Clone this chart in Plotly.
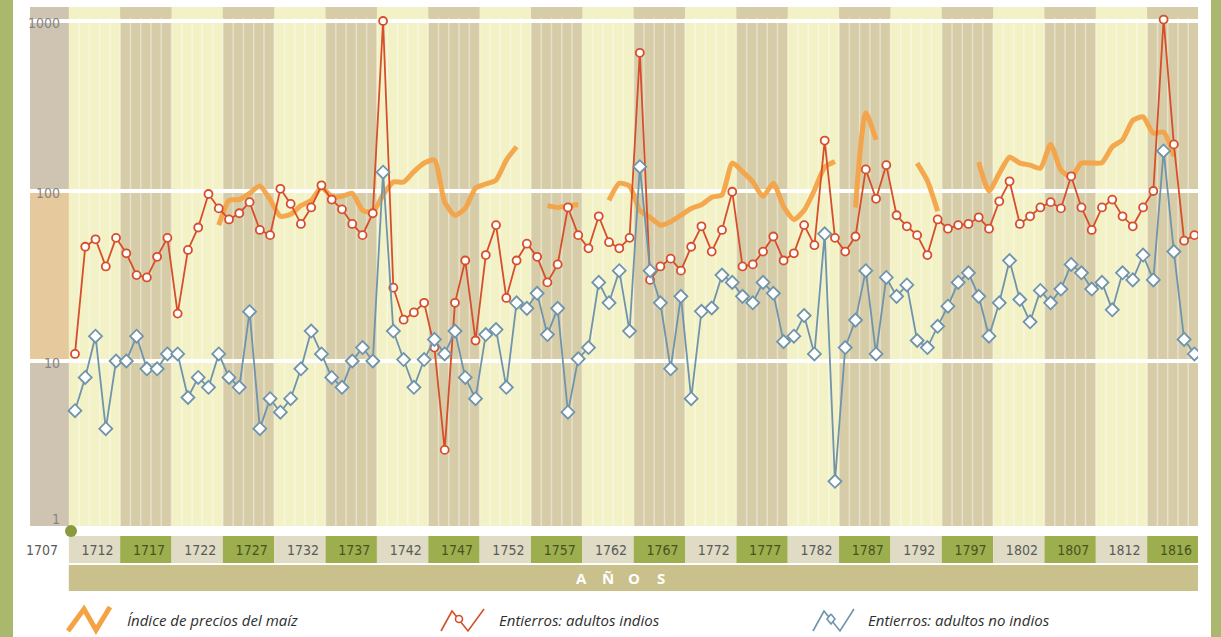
import math
import plotly.graph_objects as go

# ---- data -------------------------------------------------------------
years = list(range(1707, 1817))

# Entierros: adultos indios
indios = [
    11, 47, 52, 36, 53, 43, 32, 31, 41, 53,
    19, 45, 61, 96, 79, 68, 74, 86, 59, 55,
    103, 84, 64, 80, 108, 89, 78, 64, 55, 74,
    1000, 27, 17.5, 19.3, 22, 12, 3, 22, 39, 13.2,
    42, 63, 23.5, 39, 49, 41, 29, 37, 80, 55,
    46, 71, 50, 46, 53, 650, 30, 36, 40, 34,
    47, 62, 44, 59, 99, 36, 37, 44, 54, 39,
    43, 63, 48, 198, 53, 44, 54, 134, 90, 142,
    72, 62, 55, 42, 68, 60, 63, 64, 70, 60,
    87, 114, 64, 71, 80, 86, 79, 122, 80, 59,
    80, 89, 71, 62, 80, 100, 1020, 188, 51, 55,
]

# Entierros: adultos no indios
no_indios = [
    5.1, 8, 14, 4, 10, 10, 14, 9, 9, 11,
    11, 6.1, 8, 7, 11, 8, 7, 19.5, 4, 6,
    5, 6, 9, 15, 11, 8, 7, 10, 12, 10,
    129, 15, 10.2, 7, 10.2, 13.4, 11, 15, 8, 6,
    14.3, 15.3, 7, 22, 20.4, 25, 14.3, 20.4, 5, 10.3,
    12, 29, 22, 34, 15, 139, 34, 22, 9, 24,
    6, 19.6, 20.5, 32, 29, 24, 22, 29, 25, 13,
    14, 18.5, 11, 56, 1.96, 12, 17.4, 34, 11, 31,
    24, 28, 13.2, 12, 16, 21, 29, 33, 24, 14,
    22, 39, 23, 17, 26, 22, 26.5, 37, 33, 26.5,
    29, 20, 33, 30, 42, 30, 172, 44, 13.4, 11,
]

# Índice de precios del maíz (años sin dato = None)
maiz = [
    None, None, None, None, None, None, None, None, None, None,
    None, None, None, None, 63, 88, 89, 97, 107, 89,
    71, 73, 82, 88, 105, 93, 93, 97, 77, 75,
    95, 113, 113, 130, 146, 152, 86, 72, 79, 104,
    110, 116, 152, 182, None, None, 82, 80, 82, 83,
    None, None, 88, 111, 107, 77, 70, 63, 66, 72,
    79, 83, 92, 95, 146, 130, 113, 93, 111, 81,
    68, 77, 101, 138, 149, None, 80, 288, 200, None,
    None, None, 146, 115, 76, None, None, None, 148, 100,
    127, 158, 146, 142, 136, 188, 133, 121, 146, 146,
    147, 182, 200, 260, 273, 219, 222, 160, None, None,
]

tick_labels = ["1707"] + [str(1707 + 5 * k) for k in range(1, 22)] + ["1816"]
y_labels = ["1000", "100", "10", "1"]
legend_labels = ["Índice de precios del maíz",
                 "Entierros: adultos indios",
                 "Entierros: adultos no indios"]

# ---- geometry ---------------------------------------------------------
W, H = 1221, 637
ML, MR, MT, MB = 30, 23, 7, 111
PW, PH = W - ML - MR, H - MT - MB
X0 = 1702.62
X1 = X0 + PW / 10.27
Y_BOT = 5 / 170.0          # log10 at the bottom edge
Y_TOP = 524 / 170.0        # log10 at the top edge
BAND0 = 1706.4             # first 5-year block edge


def fx(px):
    return (px - ML) / PW


def fy(py):
    return (MT + PH - py) / PH


def yr2paper(yr):
    return (yr - X0) / (X1 - X0)


def log2paper(v):
    return (math.log10(v) - Y_BOT) / (Y_TOP - Y_BOT)


CREAM = "#f3f1c6"
TAN = "#d6cca7"
STRIP_GRAY = "#cfc4b1"
STRIP_PEACH = "#e6c99c"
CELL_LIGHT = "#dfdbc4"
CELL_GREEN = "#9dae4f"
ANOS_BAND = "#c9c08b"
FRAME_GREEN = "#a9b86c"
RED = "#d64f2a"
BLUE = "#6f94ab"
ORANGE = "#f5a243"
NARROW = "Liberation Sans Narrow, DejaVu Sans Condensed, Arial Narrow, sans-serif"

fig = go.Figure()

fig.add_trace(go.Scatter(
    x=years, y=maiz, mode="lines", name=legend_labels[0],
    line=dict(color=ORANGE, width=5, shape="spline", smoothing=0.6),
    opacity=0.92, connectgaps=False, hoverinfo="x+y",
))
fig.add_trace(go.Scatter(
    x=years, y=indios, mode="lines+markers", name=legend_labels[1],
    line=dict(color=RED, width=1.8),
    marker=dict(symbol="circle", size=8, color="white",
                line=dict(color=RED, width=1.8)),
))
fig.add_trace(go.Scatter(
    x=years, y=no_indios, mode="lines+markers", name=legend_labels[2],
    line=dict(color=BLUE, width=1.8),
    marker=dict(symbol="diamond", size=10, color="white",
                line=dict(color=BLUE, width=1.8)),
))

shapes = []

# outer green frame bars
shapes.append(dict(type="rect", xref="paper", yref="paper",
                   x0=fx(0), x1=fx(13), y0=fy(H), y1=fy(0),
                   fillcolor=FRAME_GREEN, line=dict(width=0), layer="below"))
shapes.append(dict(type="rect", xref="paper", yref="paper",
                   x0=fx(1211), x1=fx(W), y0=fy(H), y1=fy(0),
                   fillcolor=FRAME_GREEN, line=dict(width=0), layer="below"))

# value strip on the left of the plot
shapes.append(dict(type="rect", xref="x", yref="paper", x0=X0, x1=BAND0,
                   y0=log2paper(100), y1=1, fillcolor=STRIP_GRAY,
                   line=dict(width=0), layer="below"))
shapes.append(dict(type="rect", xref="x", yref="paper", x0=X0, x1=BAND0,
                   y0=log2paper(10), y1=log2paper(100), fillcolor=STRIP_PEACH,
                   line=dict(width=0), layer="below"))
shapes.append(dict(type="rect", xref="x", yref="paper", x0=X0, x1=BAND0,
                   y0=0, y1=log2paper(10), fillcolor=STRIP_GRAY,
                   line=dict(width=0), layer="below"))

# alternating 5-year bands
for k in range(11):
    a = BAND0 + 5 + 10 * k
    shapes.append(dict(type="rect", xref="x", yref="paper", x0=a, x1=a + 5,
                       y0=0, y1=1, fillcolor=TAN, line=dict(width=0),
                       layer="below"))

# thin yearly lines
for j in range(109):
    xv = BAND0 + 1 + j
    shapes.append(dict(type="line", xref="x", yref="paper", x0=xv, x1=xv,
                       y0=0, y1=fy(18),
                       line=dict(color="rgba(255,255,255,0.42)", width=1.5),
                       layer="below"))

# year cells under the plot
for k in range(22):
    a = BAND0 + 5 * k
    shapes.append(dict(type="rect", xref="paper", yref="paper",
                       x0=yr2paper(a), x1=min(yr2paper(a + 5), 1.0),
                       y0=fy(563), y1=fy(536),
                       fillcolor=CELL_GREEN if k % 2 else CELL_LIGHT,
                       line=dict(width=0), layer="below"))

# "AÑOS" band
shapes.append(dict(type="rect", xref="paper", yref="paper",
                   x0=yr2paper(BAND0), x1=1.0, y0=fy(591), y1=fy(565),
                   fillcolor=ANOS_BAND, line=dict(width=0), layer="below"))

# origin dot
shapes.append(dict(type="circle", xref="paper", yref="paper",
                   x0=fx(65), x1=fx(77), y0=fy(537), y1=fy(525),
                   fillcolor="#8a9a3c", line=dict(width=0)))


def path(points):
    return "M " + " L ".join(f"{fx(a):.5f},{fy(b):.5f}" for a, b in points)


# legend glyphs
shapes.append(dict(type="path", xref="paper", yref="paper",
                   path=path([(68, 631), (84, 609), (96, 630), (110, 607)]),
                   line=dict(color=ORANGE, width=5)))
shapes.append(dict(type="path", xref="paper", yref="paper",
                   path=path([(441, 631), (452, 611), (468, 631), (484, 609)]),
                   line=dict(color=RED, width=1.6)))
shapes.append(dict(type="circle", xref="paper", yref="paper",
                   x0=fx(455.5), x1=fx(462.5), y0=fy(622.5), y1=fy(615.5),
                   fillcolor="white", line=dict(color=RED, width=1.6)))
shapes.append(dict(type="path", xref="paper", yref="paper",
                   path=path([(813, 631), (824, 611), (840, 631), (854, 609)]),
                   line=dict(color=BLUE, width=1.6)))
shapes.append(dict(type="path", xref="paper", yref="paper",
                   path=path([(831, 614), (835, 619), (831, 624), (827, 619), (831, 614)]),
                   fillcolor="white", line=dict(color=BLUE, width=1.6)))

annotations = []

# y-axis labels inside the strip
for lab in y_labels:
    v = float(lab)
    annotations.append(dict(
        x=1705.75, xref="x", y=math.log10(v) if v > 1 else 0.07,
        yref="y", yshift=-2 if v > 1 else 0,
        text=lab, showarrow=False, xanchor="right", yanchor="middle",
        font=dict(family=NARROW, size=14, color="#858585")))

# "AÑOS"
for i, ch in enumerate("AÑOS"):
    annotations.append(dict(
        x=fx(581 + 26.5 * i), xref="paper", y=fy(578), yref="paper",
        text=f"<b>{ch}</b>", showarrow=False, xanchor="center", yanchor="middle",
        font=dict(family="Open Sans, sans-serif", size=15, color="white")))

# legend texts
for lab, xp in zip(legend_labels, [125, 497, 866]):
    annotations.append(dict(
        x=fx(xp), xref="paper", y=fy(620), yref="paper",
        text=lab, showarrow=False, xanchor="left", yanchor="middle",
        font=dict(family="Open Sans, sans-serif", size=15, color="#2f2f2f",
                  style="italic")))

# x tick positions: first label left of the blocks, then one per 5-year block
tick_vals = [X0 + 12 / 10.27] + [BAND0 + 2.5 + 5 * k + 0.3 for k in range(22)]
tick_text = []
for i, lab in enumerate(tick_labels):
    if i > 0 and i % 2 == 0:
        tick_text.append(f'<span style="color:#47531f">{lab}</span>')
    else:
        tick_text.append(lab)

fig.update_layout(
    width=W, height=H,
    margin=dict(l=ML, r=MR, t=MT, b=MB, pad=0),
    paper_bgcolor="white",
    plot_bgcolor=CREAM,
    showlegend=False,
    shapes=shapes,
    annotations=annotations,
    xaxis=dict(
        range=[X0, X1], showgrid=False, zeroline=False, showline=False,
        tickmode="array", tickvals=tick_vals, ticktext=tick_text,
        ticks="", ticklabelstandoff=14,
        tickfont=dict(family=NARROW, size=14, color="#5a5a5a"),
    ),
    yaxis=dict(
        type="log", range=[Y_BOT, Y_TOP], tickmode="array",
        tickvals=[10, 100, 1000], showticklabels=False, ticks="",
        showgrid=True, gridcolor="white", gridwidth=4,
        zeroline=False, showline=False,
    ),
)

fig.write_html("out.html")
